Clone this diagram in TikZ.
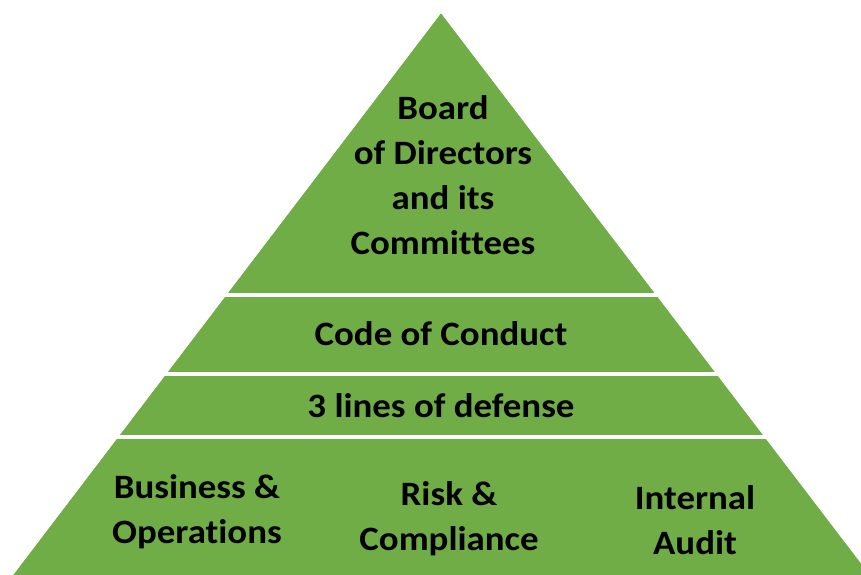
\documentclass[tikz,border=0pt]{standalone}
\usepackage{fontspec}
\setmainfont{Carlito}[FakeStretch=1.08, Ligatures=NoCommon]
\definecolor{pyrgreen}{RGB}{112,173,71}
\begin{document}
\begin{tikzpicture}[x=0.75pt,y=-0.75pt,
  lbl/.style={font=\fontsize{25.6}{33.7}\selectfont\bfseries, align=center, text=black, inner sep=0pt},
  sep/.style={draw=white, line width=2.4pt}]
\useasboundingbox (0,0) rectangle (861,575);
\clip (0,0) rectangle (861,575);
\coordinate (apex) at (441,13);
\coordinate (bl) at (13,575);
\coordinate (br) at (870,575);
\fill[pyrgreen] (apex) -- (br) -- (bl) -- cycle;
\draw[sep] (0,295) -- (861,295);
\draw[sep] (0,374) -- (861,374);
\draw[sep] (0,437) -- (861,437);
% white outside of triangle again to trim separators
\fill[white] (apex) -- (bl) -- (0,575) -- (0,0) -- cycle;
\fill[white] (apex) -- (br) -- (861,575) -- (861,0) -- cycle;
\node[lbl] (board) at (443,175) {Board\\of Directors\\and its\\Committees};
\node[lbl] (code) at (441,334) {Code of Conduct};
\node[lbl] (lines) at (441,406) {3 lines of defense};
\node[lbl] (bus) at (197,512) {Business \&\\Operations};
\node[lbl] (risk) at (449,519) {Risk \&\\Compliance};
\node[lbl] (audit) at (695,520) {Internal\\Audit};
\end{tikzpicture}
\end{document}
